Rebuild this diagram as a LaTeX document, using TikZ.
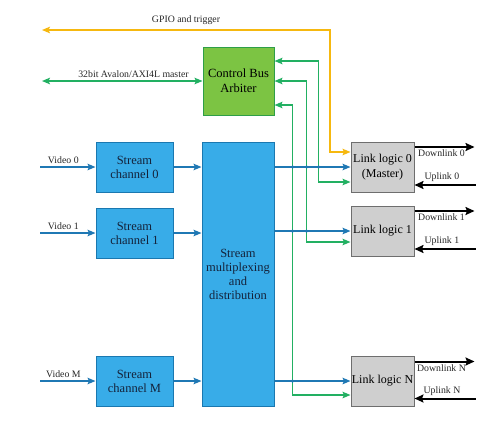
\documentclass[tikz,border=0pt]{standalone}
\usepackage{fontspec}
\setmainfont{Liberation Serif}
\usetikzlibrary{arrows.meta,calc}
\definecolor{bfill}{HTML}{38ACE8}
\definecolor{bdraw}{HTML}{1A78B0}
\definecolor{bline}{HTML}{1F78B4}
\definecolor{gfill}{HTML}{7CC443}
\definecolor{gdraw}{HTML}{2E9E48}
\definecolor{gline}{HTML}{22B062}
\definecolor{yline}{HTML}{F6B80F}
\definecolor{kfill}{HTML}{CFCFCF}
\definecolor{kdraw}{HTML}{6E6E6E}
\definecolor{navy}{HTML}{14223A}
\tikzset{
  bluebox/.style={draw=bdraw, fill=bfill, line width=1pt, align=center, text=navy, font=\fontsize{12.5}{14}\selectfont, inner sep=0pt},
  arbbox/.style={draw=gdraw, fill=gfill, line width=1pt, align=center, text=black, font=\fontsize{12.5}{15}\selectfont, inner sep=0pt},
  linkbox/.style={draw=kdraw, fill=kfill, line width=1pt, align=center, text=black, font=\fontsize{12}{15}\selectfont, inner sep=0pt, minimum width=63pt, minimum height=50pt},
  lbl/.style={font=\fontsize{9.8}{11}\selectfont, text=black!85, inner sep=1.5pt},
  tip/.style={-{Stealth[length=8pt,width=6.5pt,inset=1.5pt]}},
  bltip/.style={{Stealth[length=8pt,width=6.5pt,inset=1.5pt]}-{Stealth[length=8pt,width=6.5pt,inset=1.5pt]}},
  barr/.style={tip, draw=bline, line width=1.5pt},
  garr/.style={bltip, draw=gline, line width=1.5pt},
  yarr/.style={bltip, draw=yline, line width=1.5pt},
  karr/.style={-{Stealth[length=9pt,width=8pt,inset=1.5pt]}, draw=black, line width=2pt},
  jdot/.style={fill=bline, circle, inner sep=0pt, minimum size=3.5pt}
}
\begin{document}
\begin{tikzpicture}[x=1pt,y=-1pt]
\fill[white] (0,0) rectangle (500,426);
\useasboundingbox (0,0) rectangle (500,426);

% boxes
\node[arbbox, minimum width=71pt, minimum height=68pt] (arb) at (238.5,81) {Control Bus\\Arbiter};
\node[bluebox, minimum width=72pt, minimum height=264pt] (mux) at (238,274) {Stream\\multiplexing\\and\\distribution};
\node[bluebox, minimum width=77pt, minimum height=50pt] (ch0) at (134.5,167) {Stream\\channel 0};
\node[bluebox, minimum width=77pt, minimum height=50pt] (ch1) at (134.5,233) {Stream\\channel 1};
\node[bluebox, minimum width=77pt, minimum height=50pt] (chM) at (134.5,381) {Stream\\channel M};
\node[linkbox] (l0) at (382.5,167) {Link logic 0\\(Master)};
\node[linkbox] (l1) at (382.5,231) {Link logic 1};
\node[linkbox] (lN) at (382.5,381) {Link logic N};

% free ends
\coordinate (gpio) at (42,30);
\coordinate (ycorner) at (330,30);
\coordinate (avl) at (42,81);
\coordinate (v0) at (40,167);
\coordinate (v1) at (40,233);
\coordinate (vM) at (40,381);

% yellow GPIO
\draw[yarr] (gpio) -- node[lbl, above=3pt] {GPIO and trigger} (ycorner) |- ([yshift=15pt]l0.west);
% green master bus
\draw[garr] (avl) -- node[lbl, above=1pt, pos=0.57] {32bit Avalon/AXI4L master} (arb.west);

% green links arbiter <-> link logic
\draw[garr] ([yshift=20pt]arb.east) -- ++(44,0) coordinate (g0) |- ([yshift=-15pt]l0.west);
\draw[garr] (arb.east) -- ++(32,0) coordinate (g1) |- ([yshift=-11pt]l1.west);
\draw[garr] ([yshift=-24pt]arb.east) -- ++(18,0) coordinate (gN) |- ([yshift=-14pt]lN.west);

% video inputs
\draw[barr] (v0) -- node[lbl, above=1pt, pos=0.42] {Video 0} (ch0.west);
\draw[barr] (v1) -- node[lbl, above=1pt, pos=0.42] {Video 1} (ch1.west);
\draw[barr] (vM) -- node[lbl, above=1pt, pos=0.42] {Video M} (chM.west);

% channels to mux
\draw[barr] (ch0.east) -- (ch0.east -| mux.west);
\draw[barr] (ch1.east) -- (ch1.east -| mux.west);
\draw[barr] (chM.east) -- (chM.east -| mux.west);

% mux to link logic
\draw[barr] (mux.east |- l0.west) -- (l0.west);
\draw[barr] (mux.east |- l1.west) -- (l1.west);
\draw[barr] (mux.east |- lN.west) -- (lN.west);

% junction dots
\node[jdot] at (g0 |- l0.west) {};
\node[jdot] at (g1 |- l0.west) {};
\node[jdot] at (gN |- l0.west) {};
\node[jdot] at (g1 |- l1.west) {};
\node[jdot] at (gN |- l1.west) {};
\node[jdot] at (gN |- lN.west) {};

% downlinks / uplinks
\draw[karr] ([yshift=20pt]l0.east) -- node[lbl, below=0.5pt, pos=0.45] {Downlink 0} ++(60,0);
\draw[karr] ([yshift=-18pt]l0.east) ++(61,0) coordinate (u0) -- node[lbl, above=0.5pt, pos=0.55] {Uplink 0} ([yshift=-18pt]l0.east);
\draw[karr] ([yshift=20pt]l1.east) -- node[lbl, below=0.5pt, pos=0.45] {Downlink 1} ++(60,0);
\draw[karr] ([yshift=-18pt]l1.east) ++(61,0) coordinate (u1) -- node[lbl, above=0.5pt, pos=0.55] {Uplink 1} ([yshift=-18pt]l1.east);
\draw[karr] ([yshift=19.5pt]lN.east) -- node[lbl, below=0.5pt, pos=0.45] {Downlink N} ++(60,0);
\draw[karr] ([yshift=-17.5pt]lN.east) ++(61,0) coordinate (uN) -- node[lbl, above=0.5pt, pos=0.55] {Uplink N} ([yshift=-17.5pt]lN.east);
\end{tikzpicture}
\end{document}
